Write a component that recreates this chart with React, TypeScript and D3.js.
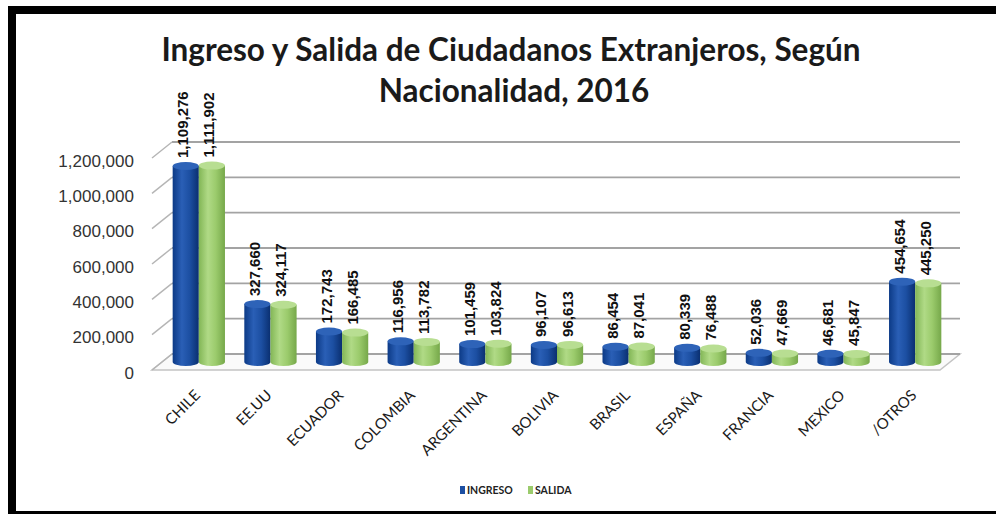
import { useEffect, useRef } from 'react';
import * as d3 from 'd3';

const categories = ['CHILE', 'EE.UU', 'ECUADOR', 'COLOMBIA', 'ARGENTINA', 'BOLIVIA', 'BRASIL', 'ESPAÑA', 'FRANCIA', 'MEXICO', '/OTROS'];
const ingreso = [1109276, 327660, 172743, 116956, 101459, 96107, 86454, 80339, 52036, 46681, 454654];
const salida = [1111902, 324117, 166485, 113782, 103824, 96613, 87041, 76488, 47669, 45847, 445250];
const seriesNames = ['INGRESO', 'SALIDA'];
const yTicks = [0, 200000, 400000, 600000, 800000, 1000000, 1200000];

const W = 996;
const H = 514;

const App = () => {
  const svgRef = useRef<SVGSVGElement>(null);

  useEffect(() => {
    if (!svgRef.current) return;
    const svg = d3.select(svgRef.current);
    svg.selectAll('*').remove();

    // fake 3D: front edge, back wall, and the plane the bars sit on
    const depthX = 20;
    const depthY = -16;
    const front = { x0: 152, x1: 940 };

    const yFront = d3.scaleLinear().domain([0, 1200000]).range([370, 158]);
    const yBack = (v: number) => yFront(v) + depthY;
    const yBar = (v: number) => yFront(v) + depthY / 2;

    const xScale = d3.scaleBand<string>()
      .domain(categories)
      .range([front.x0 + depthX / 2 + 1, front.x1 + depthX / 2 + 1])
      .paddingInner(0.27)
      .paddingOuter(0.135);

    const xInner = d3.scaleBand<string>()
      .domain(seriesNames)
      .range([0, xScale.bandwidth()]);

    const defs = svg.append('defs');
    const gradients = [
      { id: 'gIngreso', stops: ['#0C3A86', '#2A5FB6', '#1C4FA2', '#0A2F70'] },
      { id: 'gSalida', stops: ['#82B656', '#B0DA86', '#9BCB6C', '#76A84A'] }
    ];
    gradients.forEach(g => {
      const lg = defs.append('linearGradient').attr('id', g.id)
        .attr('x1', '0%').attr('x2', '100%').attr('y1', '0%').attr('y2', '0%');
      [0, 35, 65, 100].forEach((o, i) => {
        lg.append('stop').attr('offset', `${o}%`).attr('stop-color', g.stops[i]);
      });
    });
    const topColor = ['#2E63B8', '#B8DE92'];

    // floor
    svg.append('polygon')
      .attr('points', [
        [front.x0, yFront(0)],
        [front.x1, yFront(0)],
        [front.x1 + depthX, yBack(0)],
        [front.x0 + depthX, yBack(0)]
      ].map(p => p.join(',')).join(' '))
      .attr('fill', '#fafafa')
      .attr('stroke', '#c4c4c4')
      .attr('stroke-width', 1.5);

    // back wall gridlines + side diagonals
    const grid = svg.append('g');
    yTicks.forEach(t => {
      grid.append('line')
        .attr('x1', front.x0 + depthX).attr('x2', front.x1 + depthX)
        .attr('y1', yBack(t)).attr('y2', yBack(t))
        .attr('stroke', '#a3a3a3').attr('stroke-width', 1.8);
      grid.append('line')
        .attr('x1', front.x0).attr('x2', front.x0 + depthX)
        .attr('y1', yFront(t)).attr('y2', yBack(t))
        .attr('stroke', '#b5b5b5').attr('stroke-width', 1.5);
    });

    // y labels
    svg.append('g').selectAll('text')
      .data(yTicks)
      .enter()
      .append('text')
      .attr('x', 134)
      .attr('y', d => yFront(d) + 3)
      .attr('text-anchor', 'end')
      .attr('dominant-baseline', 'central')
      .style('font-family', '"Liberation Sans", Arial, sans-serif')
      .style('font-size', '17px')
      .style('fill', '#333')
      .text(d => d3.format(',')(d));

    // cylinders
    const ry = 4;
    const bars = svg.append('g');
    const labels = svg.append('g');
    categories.forEach((c, i) => {
      [ingreso[i], salida[i]].forEach((v, s) => {
        const x0 = (xScale(c) as number) + (xInner(seriesNames[s]) as number);
        const w = xInner.bandwidth();
        const cx = x0 + w / 2;
        const yt = yBar(v);
        const yb = yBar(0);
        bars.append('path')
          .attr('d', `M${x0},${yt} L${x0},${yb} A${w / 2},${ry} 0 0 0 ${x0 + w},${yb} L${x0 + w},${yt} Z`)
          .attr('fill', `url(#${gradients[s].id})`);
        bars.append('ellipse')
          .attr('cx', cx).attr('cy', yt)
          .attr('rx', w / 2).attr('ry', ry)
          .attr('fill', topColor[s]);

        labels.append('text')
          .attr('transform', `translate(${cx - 3},${yt - 8}) rotate(-90)`)
          .attr('text-anchor', 'start')
          .attr('dominant-baseline', 'central')
          .style('font-family', '"Liberation Sans", Arial, sans-serif')
          .style('font-weight', 'bold')
          .style('font-size', '15px')
          .style('fill', '#111')
          .text(d3.format(',')(v));
      });
    });

    // category labels
    svg.append('g').selectAll('text')
      .data(categories)
      .enter()
      .append('text')
      .attr('transform', d => `translate(${(xScale(d) as number) + xScale.bandwidth() / 2 - 2},${392}) rotate(-45)`)
      .attr('text-anchor', 'end')
      .attr('dominant-baseline', 'central')
      .style('font-family', 'Lato, sans-serif')
      .style('font-size', '15px')
      .style('fill', '#1a1a1a')
      .text(d => d);

    // title
    const title = svg.append('g')
      .style('font-family', 'Lato, sans-serif')
      .style('font-weight', 'bold')
      .style('font-size', '31.5px')
      .style('fill', '#1a1a1a')
      .attr('text-anchor', 'middle');
    title.append('text').attr('x', 511).attr('y', 61).text('Ingreso y Salida de Ciudadanos Extranjeros, Según');
    title.append('text').attr('x', 514).attr('y', 102).text('Nacionalidad, 2016');

    // legend
    const legendColors = ['#1C4FA2', '#9BCB6C'];
    const legendX = [460, 528];
    const legend = svg.append('g');
    seriesNames.forEach((n, i) => {
      legend.append('rect')
        .attr('x', legendX[i]).attr('y', 486)
        .attr('width', 5).attr('height', 8)
        .attr('fill', legendColors[i]);
      legend.append('text')
        .attr('x', legendX[i] + 7).attr('y', 490)
        .attr('dominant-baseline', 'central')
        .style('font-family', 'Lato, sans-serif')
        .style('font-weight', 'bold')
        .style('font-size', '10.5px')
        .style('fill', '#222')
        .text(n);
    });

    // frame
    svg.append('rect').attr('x', 8).attr('y', 6).attr('width', W - 8).attr('height', 8).attr('fill', '#000');
    svg.append('rect').attr('x', 8).attr('y', 6).attr('width', 8).attr('height', H - 6).attr('fill', '#000');
    svg.append('rect').attr('x', 8).attr('y', 511).attr('width', W - 8).attr('height', 3).attr('fill', '#000');
  }, []);

  return (
    <div style={{ position: 'absolute', left: 0, top: 0, width: W, height: H, background: '#fff' }}>
      <svg ref={svgRef} width={W} height={H} style={{ display: 'block' }} />
    </div>
  );
};

export default App;
